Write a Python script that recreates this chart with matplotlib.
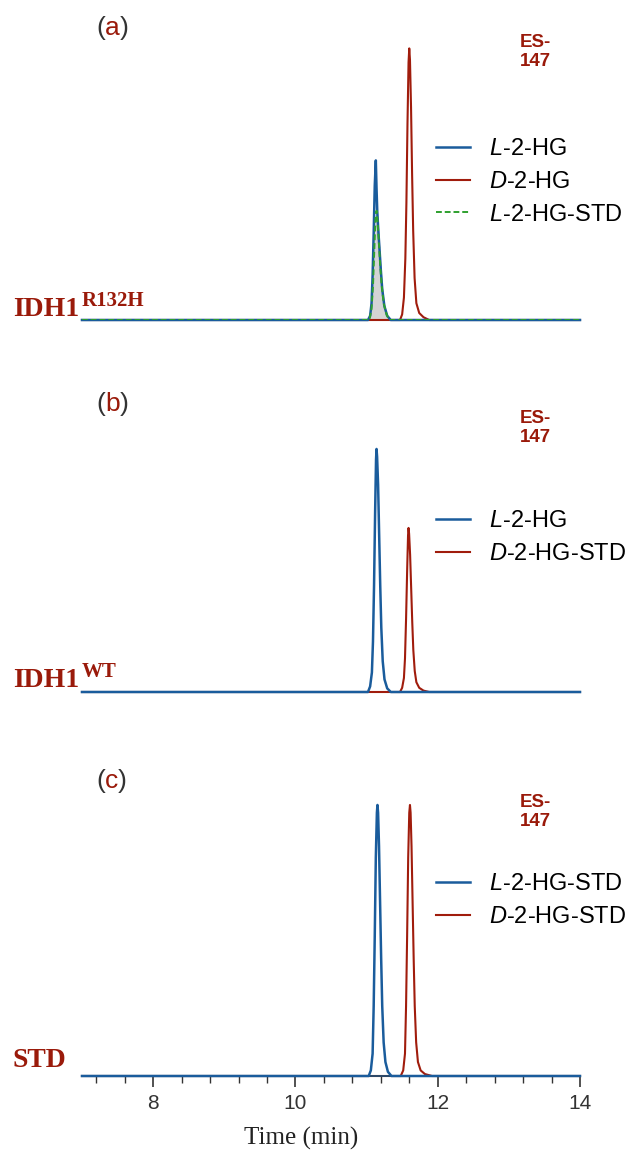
import matplotlib.pyplot as plt

plt.rcParams['font.family'] = ['Liberation Sans', 'DejaVu Sans']
plt.rcParams['mathtext.fontset'] = 'custom'
plt.rcParams['mathtext.rm'] = 'Liberation Sans'
plt.rcParams['mathtext.it'] = 'Liberation Sans:italic'

BLUE = '#1a5c9c'
RED = '#a01c0c'
GREEN = '#2ea02e'
DARKRED = '#9a1a0a'
GRAY = '#333333'

# Trazas leidas del cromatograma (tiempo en min, intensidad relativa)
# (a) IDH1 R132H
a_l2hg_t = [7.0, 11.02, 11.05, 11.07, 11.085, 11.10, 11.115, 11.13, 11.14, 11.15,
            11.165, 11.18, 11.20, 11.22, 11.25, 11.29, 11.34, 14.0]
a_l2hg_y = [0, 0, 1.5, 6, 16, 31, 48, 57, 47, 39, 32, 26, 18, 11, 5, 1.5, 0, 0]
a_d2hg_t = [7.0, 11.47, 11.50, 11.525, 11.545, 11.56, 11.575, 11.59, 11.60, 11.61,
            11.625, 11.64, 11.655, 11.675, 11.70, 11.74, 11.80, 11.88, 14.0]
a_d2hg_y = [0, 0, 2, 8, 22, 42, 70, 92, 97, 93, 76, 52, 32, 15, 6, 2.5, 1, 0, 0]
a_std_t = [7.0, 11.04, 11.07, 11.09, 11.11, 11.125, 11.14, 11.155, 11.17, 11.19,
           11.21, 11.24, 11.28, 11.32, 14.0]
a_std_y = [0, 0, 4, 12, 26, 36, 39, 35, 29, 20, 13, 6, 2, 0, 0]

# (b) IDH1 WT
b_l2hg_t = [7.0, 11.02, 11.05, 11.075, 11.09, 11.105, 11.12, 11.133, 11.14, 11.148,
            11.162, 11.177, 11.192, 11.207, 11.227, 11.252, 11.29, 11.34, 14.0]
b_l2hg_y = [0, 0, 2, 7, 18, 38, 64, 83, 86.8, 84, 74, 56, 38, 23, 11, 4.5, 1.3, 0, 0]
b_d2hg_t = [7.0, 11.47, 11.50, 11.525, 11.54, 11.555, 11.57, 11.583, 11.59, 11.598,
            11.612, 11.627, 11.642, 11.657, 11.677, 11.70, 11.74, 11.80, 11.88, 14.0]
b_d2hg_y = [0, 0, 1.5, 5, 12, 26, 43, 56, 58.6, 56.5, 49, 37, 25, 15, 7.5, 3.5, 1.5, 0.5, 0, 0]

# (c) STD
c_l2hg_t = [7.0, 11.03, 11.06, 11.085, 11.10, 11.115, 11.13, 11.145, 11.153, 11.162,
            11.175, 11.19, 11.205, 11.22, 11.24, 11.265, 11.30, 11.35, 14.0]
c_l2hg_y = [0, 0, 2, 8, 25, 50, 78, 94, 96.8, 94, 82, 62, 42, 25, 12, 5, 1.5, 0, 0]
c_d2hg_t = [7.0, 11.48, 11.515, 11.54, 11.555, 11.57, 11.585, 11.60, 11.61, 11.619,
            11.632, 11.647, 11.662, 11.677, 11.697, 11.722, 11.76, 11.82, 11.92, 14.0]
c_d2hg_y = [0, 0, 2, 8, 25, 50, 78, 94, 96.8, 94, 82, 62, 42, 25, 12, 5, 2, 0.7, 0, 0]

x_major = [8, 10, 12, 14]
x_minor = [7.2, 7.6, 8.4, 8.8, 9.2, 9.6, 10.4, 10.8, 11.2, 11.6, 12.4, 12.8, 13.2, 13.6]

fig = plt.figure(figsize=(6.32, 11.53), dpi=100)
H = 1153
W = 632
left = 82 / W
width = 498 / W


def fy(px):
    return 1 - px / H


def make_ax(base_px):
    ax = fig.add_axes([left, fy(base_px), width, 280 / H])
    ax.set_xlim(7, 14)
    ax.set_ylim(0, 100)
    for s in ax.spines.values():
        s.set_visible(False)
    ax.set_xticks([])
    ax.set_yticks([])
    return ax


def add_legend(ax, top_px):
    return ax.legend(loc='upper left', bbox_to_anchor=(436 / W, fy(top_px)),
                     bbox_transform=fig.transFigure, frameon=False, fontsize=17,
                     handlelength=1.45, handletextpad=0.78, labelspacing=0.46,
                     borderpad=0, borderaxespad=0)


def panel_tag(ax, letter, y_px, es_px):
    t1 = fig.text(96 / W, fy(y_px), '(', fontsize=19, color=GRAY, va='center')
    t2 = ax.annotate(letter, xy=(1, 0), xycoords=t1, fontsize=19, color=DARKRED,
                     va='bottom', ha='left', annotation_clip=False)
    ax.annotate(')', xy=(1, 0), xycoords=t2, fontsize=19, color=GRAY,
                va='bottom', ha='left', annotation_clip=False)
    fig.text(535 / W, fy(es_px), 'ES-\n147', fontsize=13.5, color=DARKRED,
             fontweight='bold', ha='center', va='center', linespacing=1.1)


def sample_label(main, sup, base_px):
    fig.text(13 / W, fy(base_px), main, fontsize=20, color=DARKRED,
             family='Liberation Serif', fontweight='bold', va='baseline')
    if sup:
        fig.text(82 / W, fy(base_px - 10), sup, fontsize=15, color=DARKRED,
                 family='Liberation Serif', fontweight='bold', va='baseline')


# (a)
ax1 = make_ax(320)
ax1.fill_between(a_std_t, a_std_y, color='#d4d4d4', zorder=1)
ax1.plot(a_l2hg_t, a_l2hg_y, color=BLUE, lw=1.8, label=r'$\mathit{L}$-2-HG', zorder=3, clip_on=False)
ax1.plot(a_d2hg_t, a_d2hg_y, color=RED, lw=1.5, label=r'$\mathit{D}$-2-HG', zorder=2, clip_on=False)
ax1.plot(a_std_t, a_std_y, color=GREEN, lw=1.4, ls='--', dashes=(3, 1.5),
         label=r'$\mathit{L}$-2-HG-STD', zorder=4)
add_legend(ax1, 138)
panel_tag(ax1, 'a', 28, 52)
sample_label('IDH1', 'R132H', 316)

# (b)
ax2 = make_ax(692)
ax2.plot(b_l2hg_t, b_l2hg_y, color=BLUE, lw=1.8, label=r'$\mathit{L}$-2-HG', zorder=3, clip_on=False)
ax2.plot(b_d2hg_t, b_d2hg_y, color=RED, lw=1.5, label=r'$\mathit{D}$-2-HG-STD', zorder=2, clip_on=False)
add_legend(ax2, 510)
panel_tag(ax2, 'b', 404, 428)
sample_label('IDH1', 'WT', 687)

# (c)
ax3 = make_ax(1076)
ax3.plot(c_l2hg_t, c_l2hg_y, color=BLUE, lw=1.8, label=r'$\mathit{L}$-2-HG-STD', zorder=3, clip_on=False)
ax3.plot(c_d2hg_t, c_d2hg_y, color=RED, lw=1.5, label=r'$\mathit{D}$-2-HG-STD', zorder=2, clip_on=False)
add_legend(ax3, 873)
panel_tag(ax3, 'c', 781, 812)
sample_label('STD', None, 1067)

# Eje de tiempo solo en el panel inferior
ax3.spines['bottom'].set_visible(True)
ax3.spines['bottom'].set_position(('data', 0))
ax3.spines['bottom'].set_color('#2a4a6a')
ax3.spines['bottom'].set_linewidth(1.4)
ax3.set_xticks(x_major)
ax3.set_xticks(x_minor, minor=True)
ax3.tick_params(axis='x', which='major', length=8, width=1.2, color=GRAY,
                labelsize=15, labelcolor=GRAY, pad=5)
ax3.tick_params(axis='x', which='minor', length=5, width=1.0, color=GRAY)
fig.text(301 / W, fy(1138), 'Time (min)', fontsize=18, family='Liberation Serif',
         color='#222222', ha='center', va='center')

fig.savefig('out.png', dpi=100)
